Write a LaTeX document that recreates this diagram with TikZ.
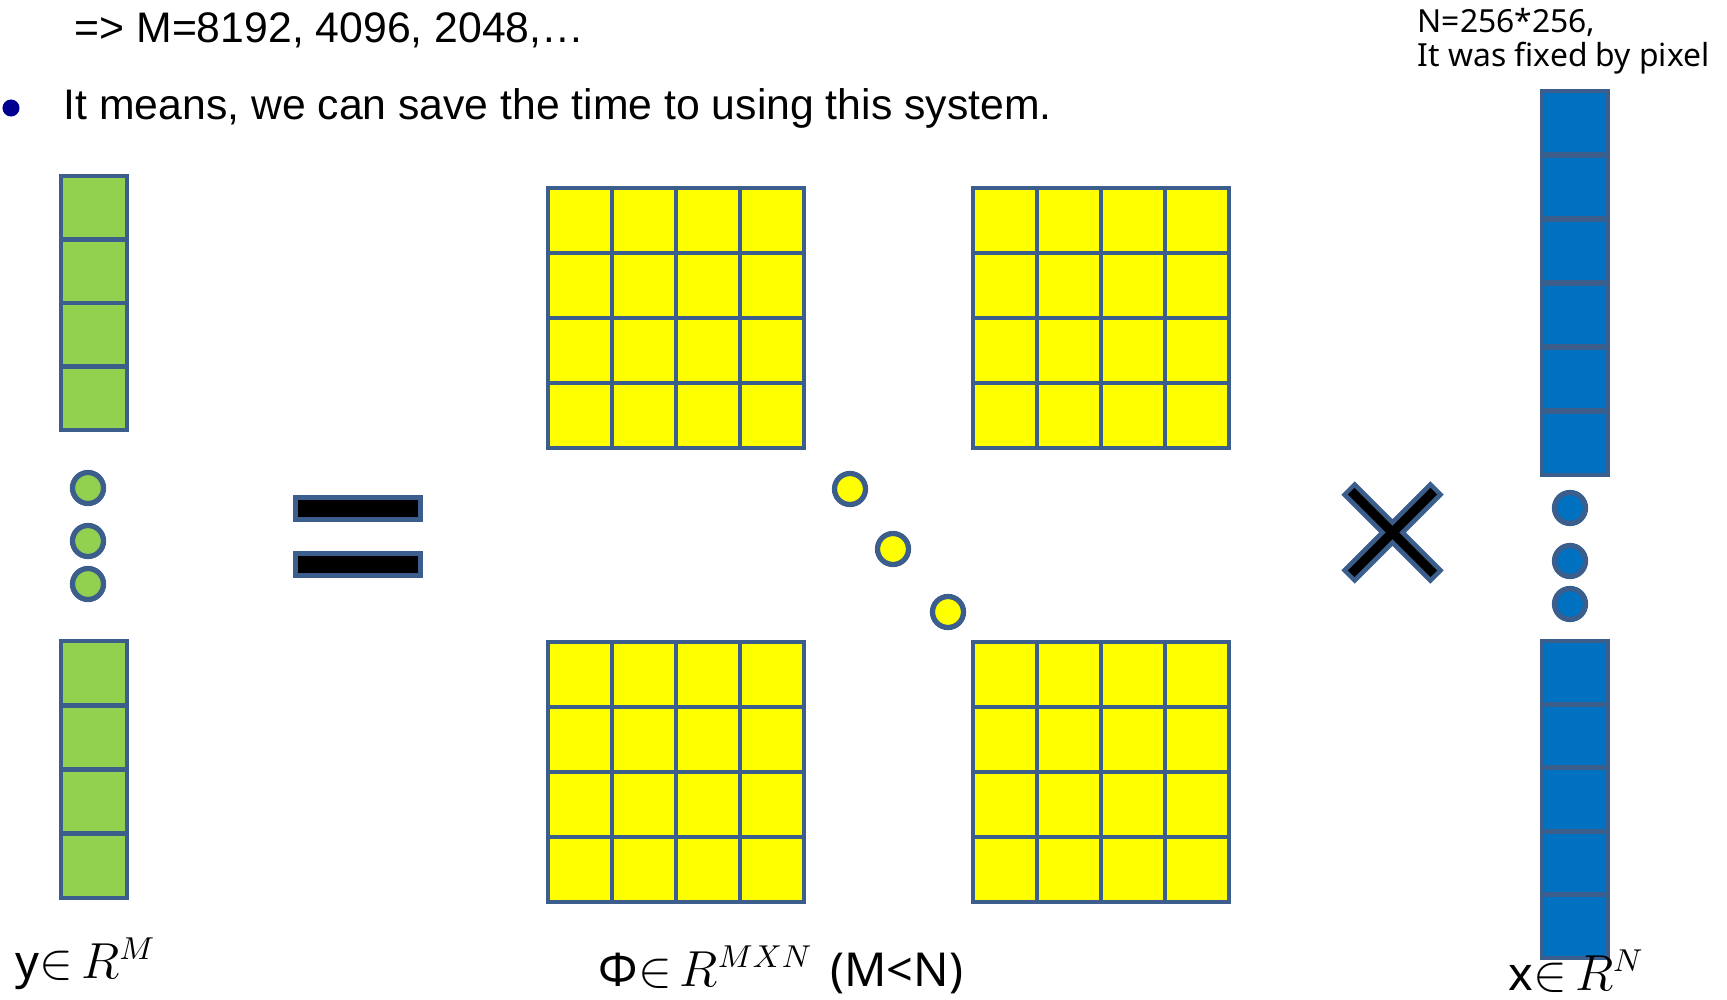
\documentclass[tikz,border=0pt]{standalone}
\usepackage{fontspec}
\setmainfont{Liberation Sans}
\newfontfamily\lblfont{Noto Sans}
\usetikzlibrary{arrows.meta}

\definecolor{rim}{HTML}{3B5E8C}
\definecolor{ygreen}{HTML}{92D050}
\definecolor{phiyellow}{HTML}{FFFF00}
\definecolor{xblue}{HTML}{0070C0}
\definecolor{navy}{HTML}{000090}

\tikzset{
  ycell/.style = {draw = rim, fill = ygreen, line width = 1.3pt},
  phicell/.style = {draw = rim, fill = phiyellow, line width = 1.3pt},
  xcell/.style = {draw = rim, fill = xblue, line width = 1.4pt},
  dot/.style = {circle, draw = rim, line width = 1.5pt, minimum size = 0.31cm, inner sep = 0pt},
  lbl/.style = {anchor = base west, inner sep = 0pt, font = \lblfont\fontsize{13.3}{16}\selectfont},
  txt/.style = {anchor = base west, inner sep = 0pt, font = \fontsize{12.15}{14}\selectfont},
  note/.style = {anchor = base west, inner sep = 0pt, font = \lblfont\fontsize{9.05}{11}\selectfont}
}

\begin{document}
\begin{tikzpicture}[x = 0.01cm, y = -0.01cm]
\useasboundingbox (0,0) rectangle (1727,1000);

\node[txt] (mline) at (74,42) {=> M=8192, 4096, 2048,…};
\node[circle, fill = navy, minimum width = 0.15cm, minimum height = 0.17cm, inner sep = 0pt] (bullet) at (11,108) {};
\node[txt] (means) at (63,119) {It means, we can save the time to using this system.};
\node[note] (npix) at (1417,32) {N=256*256,};
\node[note] (fixed) at (1417,67) {It was fixed by pixel};

\foreach \k in {0,...,3}
  \draw[ycell] (61,{176+63.5*\k}) rectangle +(66,63.5);
\foreach \k in {0,...,3}
  \draw[ycell] (61,{641+64.25*\k}) rectangle +(66,64.25);
\node[dot, fill = ygreen] (ydot1) at (88,488) {};
\node[dot, fill = ygreen] (ydot2) at (88,541) {};
\node[dot, fill = ygreen] (ydot3) at (88,584) {};

\draw[draw = rim, fill = black, line width = 1.4pt] (295.5,497.5) rectangle (420.5,519.5)
      (295.5,553.5) rectangle (420.5,575.5);

\foreach \mx/\my in {548/188,973/188,548/642,973/642}
  \foreach \i in {0,...,3}
    \foreach \j in {0,...,3}
      \draw[phicell] ({\mx+64*\i},{\my+65*\j}) rectangle +(64,65);
\node[dot, fill = phiyellow] (phidot1) at (850,489) {};
\node[dot, fill = phiyellow] (phidot2) at (893,549) {};
\node[dot, fill = phiyellow] (phidot3) at (948,612) {};

\draw[rim, line width = 0.189cm] (1348,488) -- (1437,577) (1437,488) -- (1348,577);
\draw[black, line width = 0.095cm, shorten < = 0.045cm, shorten > = 0.045cm] (1348,488) -- (1437,577);
\draw[black, line width = 0.095cm, shorten < = 0.045cm, shorten > = 0.045cm] (1437,488) -- (1348,577);

\draw[xcell] (1542,91) rectangle (1608,475)
      (1542,641) rectangle (1608,958);
\foreach \k in {1,...,5}
  \draw[rim, line width = 1.5pt] (1542,{91+64*\k}) -- (1608,{91+64*\k});
\foreach \k in {1,...,4}
  \draw[rim, line width = 1.5pt] (1542,{641+63.4*\k}) -- (1608,{641+63.4*\k});
\node[dot, fill = xblue] (xdot1) at (1570,508) {};
\node[dot, fill = xblue] (xdot2) at (1570,561) {};
\node[dot, fill = xblue] (xdot3) at (1570,604) {};

\node[lbl] (ylbl) at (15,978) {y$\in$\,$R^{M}$};
\node[lbl] (philbl) at (598,986) {Φ$\in$\,$R^{MXN}$\hspace{0.05cm} (M<N)};
\node[lbl] (xlbl) at (1508,990) {x$\in$\,$R^{N}$};
\end{tikzpicture}
\end{document}
